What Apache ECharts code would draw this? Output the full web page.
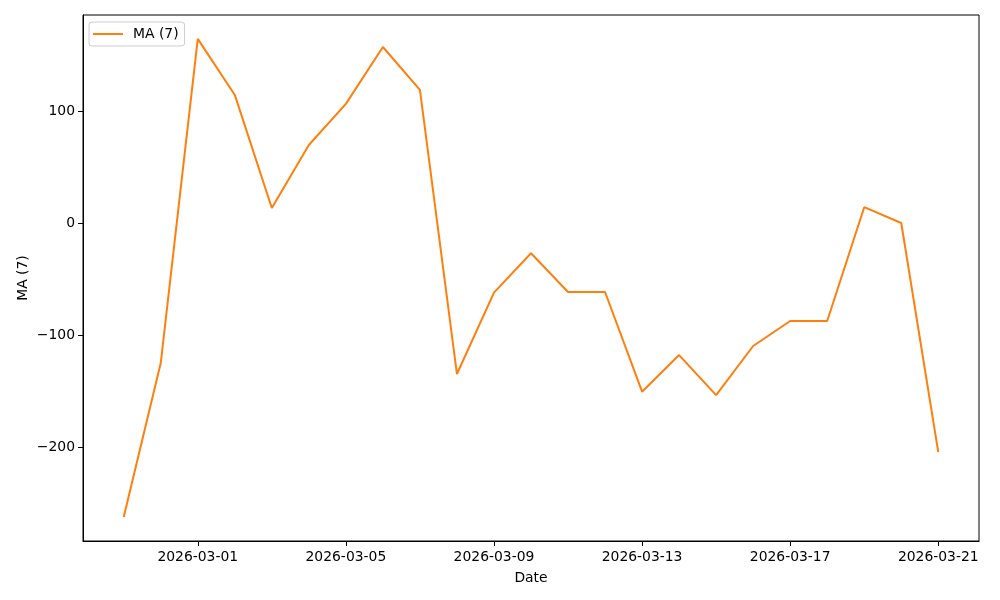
<!DOCTYPE html>
<html>
<head>
<meta charset="utf-8">
<script src="https://cdn.jsdelivr.net/npm/echarts@6/dist/echarts.min.js"></script>
<style>html,body{margin:0;padding:0;background:#fff}#c{width:1000px;height:600px}</style>
</head>
<body>
<div id="c"></div>
<script>
const dates = ["2026-02-27","2026-02-28","2026-03-01","2026-03-02","2026-03-03","2026-03-04","2026-03-05","2026-03-06","2026-03-07","2026-03-08","2026-03-09","2026-03-10","2026-03-11","2026-03-12","2026-03-13","2026-03-14","2026-03-15","2026-03-16","2026-03-17","2026-03-18","2026-03-19","2026-03-20","2026-03-21"];
const maValues = [-262.5,-125,164.3,114.3,13.4,69.6,106.3,157.1,118.8,-134.8,-62.2,-27,-61.6,-61.6,-150.6,-117.9,-153.6,-109.8,-87.5,-87.5,14.1,0,-204.5];
const xTickLabels = ["2026-03-01","2026-03-05","2026-03-09","2026-03-13","2026-03-17","2026-03-21"];
const yTicks = [-200,-100,0,100];

const ts = d => Date.parse(d + "T00:00:00Z");
const fmt = v => new Date(v).toISOString().slice(0,10);
const data = dates.map((d,i)=>[ts(d), maValues[i]]);
const span = ts(dates[dates.length-1]) - ts(dates[0]);
const xMin = ts(dates[0]) - span*0.05, xMax = ts(dates[dates.length-1]) + span*0.05;
const yLo = Math.min(...maValues), yHi = Math.max(...maValues);
const yMin = yLo - (yHi-yLo)*0.05, yMax = yHi + (yHi-yLo)*0.05;
const font = "DejaVu Sans";
const fs = 13.9;

const chart = echarts.init(document.getElementById('c'), null, {renderer:'canvas'});
chart.setOption({
  animation:false,
  backgroundColor:'#fff',
  grid:{left:83,right:21,top:15,bottom:59,show:true,borderColor:'#000',borderWidth:1,backgroundColor:'transparent'},
  legend:{
    left:89,top:22,orient:'vertical',
    borderColor:'#cccccc',borderWidth:1,borderRadius:3,padding:[5,6,5,4],
    backgroundColor:'rgba(255,255,255,0.8)',
    itemWidth:30,itemHeight:2,itemGap:10,
    textStyle:{fontFamily:font,fontSize:fs,color:'#000',padding:[0,0,0,5]},
    data:[{name:'MA (7)',icon:'rect'}]
  },
  xAxis:{
    type:'value',min:xMin,max:xMax,
    name:'Date',nameLocation:'middle',nameGap:30,nameMoveOverlap:false,
    nameTextStyle:{fontFamily:font,fontSize:fs,color:'#000'},
    axisLine:{show:true,onZero:false,lineStyle:{color:'#000',width:1}},
    axisTick:{show:true,length:5,lineStyle:{color:'#000'},customValues:xTickLabels.map(ts)},
    axisLabel:{fontFamily:font,fontSize:fs,color:'#000',margin:9,customValues:xTickLabels.map(ts),formatter:v=>fmt(v)},
    splitLine:{show:false}
  },
  yAxis:{
    type:'value',min:yMin,max:yMax,
    name:'MA (7)',nameLocation:'middle',nameGap:53,nameRotate:90,nameMoveOverlap:false,
    nameTextStyle:{fontFamily:font,fontSize:fs,color:'#000'},
    axisLine:{show:true,onZero:false,lineStyle:{color:'#000',width:1}},
    axisTick:{show:true,length:5,lineStyle:{color:'#000'},customValues:yTicks},
    axisLabel:{fontFamily:font,fontSize:fs,color:'#000',margin:8,customValues:yTicks,formatter:v=>v<0?'\u2212'+Math.abs(v):String(v)},
    splitLine:{show:false}
  },
  series:[{
    name:'MA (7)',type:'line',data:data,
    showSymbol:false,symbol:'none',
    lineStyle:{color:'#ff7f0e',width:2},
    itemStyle:{color:'#ff7f0e'}
  }]
});
</script>
</body>
</html>
